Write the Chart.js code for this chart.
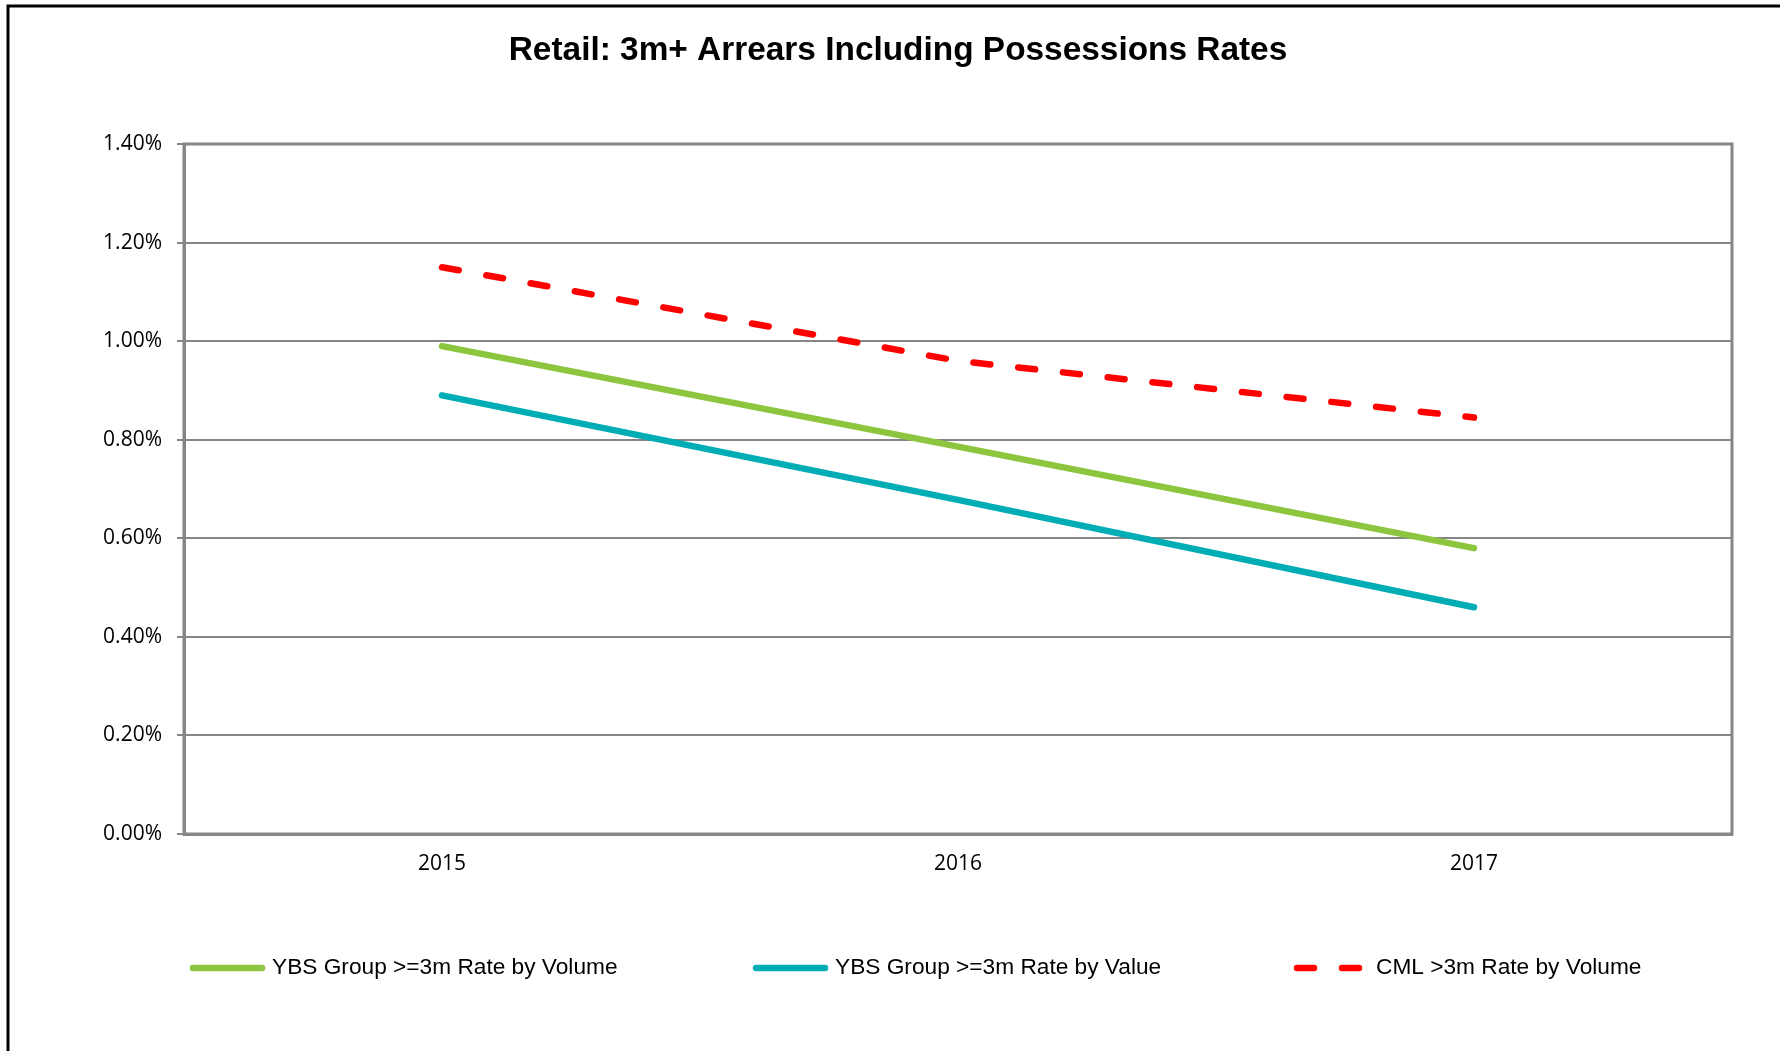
<!DOCTYPE html>
<html>
<head>
<meta charset="utf-8">
<title>Retail: 3m+ Arrears Including Possessions Rates</title>
<script src="https://cdn.jsdelivr.net/npm/chart.js@4/dist/chart.umd.min.js"></script>
<style>
  html, body { margin: 0; padding: 0; background: #fff; }
  canvas { display: block; }
</style>
</head>
<body>
<canvas id="chart" width="1780" height="1051"></canvas>
<script>
// --- data ---
const years = ['2015', '2016', '2017'];
const ybsVolume = [0.99, 0.786, 0.58];
const ybsValue = [0.89, 0.678, 0.46];
const cmlVolume = [1.15, 0.96, 0.845];
const seriesNames = ['YBS Group >=3m Rate by Volume', 'YBS Group >=3m Rate by Value', 'CML >3m Rate by Volume'];
const chartTitle = 'Retail: 3m+ Arrears Including Possessions Rates';

const GRID = '#868686';

// frame, title, plot border and the legend row at the bottom
const decorPlugin = {
    id: 'decor',
    beforeDraw(chart) {
        const ctx = chart.ctx;
        ctx.save();
        ctx.fillStyle = '#fff';
        ctx.fillRect(0, 0, chart.width, chart.height);
        ctx.strokeStyle = '#000';
        ctx.lineWidth = 3;
        ctx.beginPath();
        ctx.moveTo(8, chart.height);
        ctx.lineTo(8, 6);
        ctx.lineTo(chart.width, 6);
        ctx.stroke();
        // title is centred on the outer frame, not the canvas
        ctx.fillStyle = '#000';
        ctx.font = 'bold 33.4px "Liberation Sans"';
        ctx.textAlign = 'center';
        ctx.textBaseline = 'middle';
        ctx.fillText(chartTitle, 898, 51);
        ctx.restore();
    },
    beforeDatasetsDraw(chart) {
        const a = chart.chartArea;
        const ctx = chart.ctx;
        ctx.save();
        ctx.strokeStyle = GRID;
        ctx.lineWidth = 3;
        ctx.strokeRect(a.left, a.top, a.right - a.left, a.bottom - a.top);
        ctx.restore();
    },
    afterDraw(chart) {
        const ctx = chart.ctx;
        const starts = [190, 753, 1294];
        const y = 968;
        ctx.save();
        chart.data.datasets.forEach((ds, i) => {
            const x = starts[i];
            ctx.strokeStyle = ds.borderColor;
            ctx.lineWidth = ds.borderWidth;
            ctx.lineCap = 'round';
            ctx.setLineDash(ds.borderDash || []);
            ctx.beginPath();
            ctx.moveTo(x + 3, y);
            ctx.lineTo(x + 72, y);
            ctx.stroke();
            ctx.setLineDash([]);
            ctx.fillStyle = '#000';
            ctx.font = '22.7px "Liberation Sans"';
            ctx.textBaseline = 'middle';
            ctx.fillText(ds.label, x + 82, y);
        });
        ctx.restore();
    }
};

new Chart(document.getElementById('chart'), {
    type: 'line',
    data: {
        labels: years,
        datasets: [
            { label: seriesNames[0], data: ybsVolume, borderColor: '#8cc63f', borderWidth: 6.5, borderCapStyle: 'round' },
            { label: seriesNames[1], data: ybsValue, borderColor: '#00adb5', borderWidth: 6.5, borderCapStyle: 'round' },
            { label: seriesNames[2], data: cmlVolume, borderColor: '#ff0000', borderWidth: 6.5, borderCapStyle: 'round', borderDash: [17, 28] }
        ]
    },
    options: {
        responsive: false,
        animation: false,
        events: [],
        elements: { point: { radius: 0 }, line: { tension: 0 } },
        layout: { padding: { left: 0, right: 48, top: 144, bottom: 0 } },
        plugins: {
            legend: { display: false },
            tooltip: { enabled: false },
            title: { display: false }
        },
        scales: {
            x: {
                offset: true,
                grid: { display: false, drawTicks: false },
                border: { display: true, color: GRID, width: 3 },
                ticks: { color: '#000', padding: 17, font: { family: '"Open Sans"', size: 21 } },
                afterFit(scale) { scale.height = 217; }
            },
            y: {
                min: 0,
                max: 1.4,
                grid: { color: GRID, lineWidth: 2, tickLength: 7 },
                border: { display: true, color: GRID, width: 3 },
                ticks: {
                    stepSize: 0.2,
                    color: '#000',
                    padding: 15,
                    font: { family: '"Open Sans"', size: 21 },
                    callback: v => v.toFixed(2) + '%'
                },
                afterFit(scale) { scale.width = 184; }
            }
        }
    },
    plugins: [decorPlugin]
});
</script>
</body>
</html>
